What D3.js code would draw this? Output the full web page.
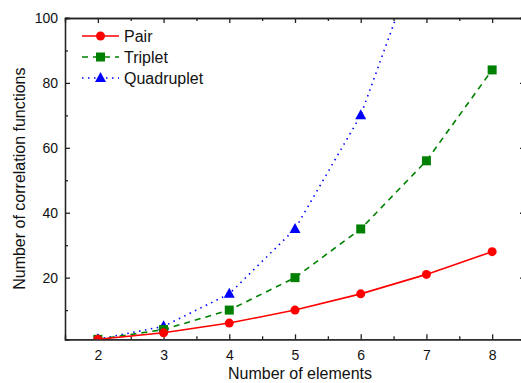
<!DOCTYPE html>
<html>
<head>
<meta charset="utf-8">
<script src="https://cdn.jsdelivr.net/npm/d3@7"></script>
<style>
  body { margin: 0; background: #fff; }
  svg { display: block; font-family: Arial, "Liberation Sans", sans-serif; }
</style>
</head>
<body>
<svg id="chart" width="521" height="383"></svg>
<script>
const elements = [2, 3, 4, 5, 6, 7, 8];
const pairCounts = [1, 3, 6, 10, 15, 21, 28];
const tripletCounts = [1, 4, 10, 20, 35, 56, 84];
const quadrupletCounts = [1, 5, 15, 35, 70, 126];
const xTickValues = [2, 3, 4, 5, 6, 7, 8];
const yTickValues = [20, 40, 60, 80, 100];

const series = [
  { name: 'Pair', values: pairCounts, color: '#ff0000', dash: null, marker: 'circle' },
  { name: 'Triplet', values: tripletCounts, color: '#008000', dash: '6,5', marker: 'square' },
  { name: 'Quadruplet', values: quadrupletCounts, color: '#0000ff', dash: '1.5,4.5', marker: 'triangle' }
];

const margin = { left: 65, top: 18, right: 525, bottom: 339.3 };
const svg = d3.select('#chart');

const x = d3.scaleLinear().domain([1.5, 8.5]).range([margin.left, margin.right]);
const y = d3.scaleLinear().domain([1, 100]).range([margin.bottom, margin.top]);

// clip so the quadruplet curve stops at the frame
svg.append('clipPath').attr('id', 'plotclip')
  .append('rect')
  .attr('x', margin.left).attr('y', margin.top)
  .attr('width', margin.right - margin.left)
  .attr('height', margin.bottom - margin.top);

const minorX = d3.range(2.5, 8.5, 1);
const minorY = [10, 30, 50, 70, 90];

// axes: ticks point inward, mirrored on top/right
svg.append('g').attr('transform', `translate(0,${margin.bottom})`)
  .call(d3.axisBottom(x).tickValues(xTickValues).tickSize(-5).tickPadding(11).tickFormat(d3.format('d')));
svg.append('g').attr('transform', `translate(0,${margin.bottom})`)
  .call(d3.axisBottom(x).tickValues(minorX).tickSize(-3).tickFormat(''));
svg.append('g').attr('transform', `translate(0,${margin.top})`)
  .call(d3.axisTop(x).tickValues(xTickValues).tickSize(-5).tickFormat(''));
svg.append('g').attr('transform', `translate(0,${margin.top})`)
  .call(d3.axisTop(x).tickValues(minorX).tickSize(-3).tickFormat(''));

svg.append('g').attr('transform', `translate(${margin.left},0)`)
  .call(d3.axisLeft(y).tickValues(yTickValues).tickSize(-5).tickPadding(7).tickFormat(d3.format('d')));
svg.append('g').attr('transform', `translate(${margin.left},0)`)
  .call(d3.axisLeft(y).tickValues(minorY).tickSize(-3).tickFormat(''));
svg.append('g').attr('transform', `translate(${margin.right},0)`)
  .call(d3.axisRight(y).tickValues(yTickValues).tickSize(-5).tickFormat(''));
svg.append('g').attr('transform', `translate(${margin.right},0)`)
  .call(d3.axisRight(y).tickValues(minorY).tickSize(-3).tickFormat(''));

svg.selectAll('.domain').attr('stroke', '#222').attr('stroke-width', 1.3);
svg.selectAll('.tick line').attr('stroke', '#222').attr('stroke-width', 1.3);
svg.selectAll('.tick text').attr('font-size', 14).attr('fill', '#111')
  .attr('font-family', 'Arial, "Liberation Sans", sans-serif');

// axis titles
svg.append('text')
  .attr('x', 300).attr('y', 379)
  .attr('text-anchor', 'middle').attr('font-size', 16).attr('fill', '#111')
  .text('Number of elements');
svg.append('text')
  .attr('transform', `translate(25,${(margin.top + margin.bottom) / 2}) rotate(-90)`)
  .attr('text-anchor', 'middle').attr('font-size', 16).attr('fill', '#111')
  .text('Number of correlation functions');

function drawMarker(g, type, color, cx, cy) {
  if (type === 'circle') {
    g.append('circle').attr('cx', cx).attr('cy', cy).attr('r', 4.5).attr('fill', color);
  } else if (type === 'square') {
    g.append('rect').attr('x', cx - 4.5).attr('y', cy - 4.5).attr('width', 9).attr('height', 9).attr('fill', color);
  } else {
    g.append('path').attr('d', `M${cx},${cy - 6}L${cx + 5.5},${cy + 4}L${cx - 5.5},${cy + 4}Z`).attr('fill', color);
  }
}

const plot = svg.append('g').attr('clip-path', 'url(#plotclip)');
const line = d3.line().x((d) => x(d[0])).y((d) => y(d[1]));

// draw blue first so red/green sit on top like the original
[...series].reverse().forEach((s) => {
  const pts = s.values.map((v, i) => [elements[i], v]);
  plot.append('path')
    .datum(pts)
    .attr('d', line)
    .attr('fill', 'none')
    .attr('stroke', s.color)
    .attr('stroke-width', 1.6)
    .attr('stroke-dasharray', s.dash);
  const mg = plot.append('g');
  pts.forEach((p) => drawMarker(mg, s.marker, s.color, x(p[0]), y(p[1])));
});

// legend
const legend = svg.append('g');
series.forEach((s, i) => {
  const ly = 36 + i * 21;
  legend.append('line')
    .attr('x1', 82).attr('x2', 119).attr('y1', ly).attr('y2', ly)
    .attr('stroke', s.color).attr('stroke-width', 1.6)
    .attr('stroke-dasharray', s.dash);
  drawMarker(legend, s.marker, s.color, 100.5, ly);
  legend.append('text')
    .attr('x', 124).attr('y', ly + 6)
    .attr('font-size', 16).attr('fill', '#111')
    .text(s.name);
});
</script>
</body>
</html>
